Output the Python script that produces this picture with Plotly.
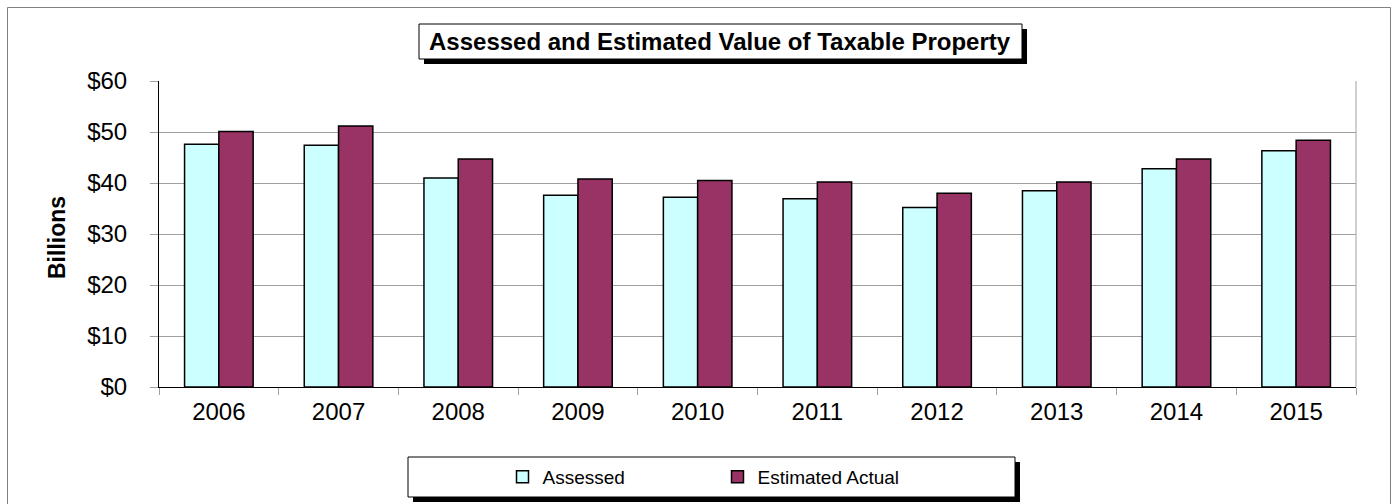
import plotly.graph_objects as go

# ---- data (billions of dollars) ----
years = ["2006", "2007", "2008", "2009", "2010", "2011", "2012", "2013", "2014", "2015"]
assessed = [47.6, 47.4, 41.0, 37.6, 37.2, 36.9, 35.2, 38.5, 42.8, 46.3]
estimated_actual = [50.1, 51.2, 44.7, 40.8, 40.5, 40.2, 38.0, 40.2, 44.7, 48.4]
series_names = ["Assessed", "Estimated Actual"]
y_ticks = [0, 10, 20, 30, 40, 50, 60]
y_tick_labels = ["$" + str(v) for v in y_ticks]

# ---- page geometry (pixels) ----
W, H = 1393, 504
L, R, T, B = 159, 37, 81, 117
PW, PH = W - L - R, H - T - B


def px(x):
    """pixel column -> paper x"""
    return (x - L) / PW


def py(y):
    """pixel row -> paper y"""
    return (H - B - y) / PH


FONT = "Liberation Sans, Arial, sans-serif"
GRID = "#A0A0A0"

fig = go.Figure()
fig.add_trace(go.Bar(
    x=years, y=assessed, name=series_names[0],
    marker=dict(color="#CCFFFF", line=dict(color="#000000", width=1.5)),
))
fig.add_trace(go.Bar(
    x=years, y=estimated_actual, name=series_names[1],
    marker=dict(color="#993366", line=dict(color="#000000", width=1.5)),
))


def boxed(x0, y0, x1, y1, off=5):
    """white box with a black drop shadow, given in pixel coordinates"""
    return [
        dict(type="rect", xref="paper", yref="paper", layer="below",
             x0=px(x0 + off), x1=px(x1 + off), y0=py(y0 + off), y1=py(y1 + off),
             fillcolor="#000000", line=dict(width=0)),
        dict(type="rect", xref="paper", yref="paper", layer="below",
             x0=px(x0), x1=px(x1), y0=py(y0), y1=py(y1),
             fillcolor="#FFFFFF", line=dict(color="#000000", width=1)),
    ]


shapes = []
# outer frame of the chart
shapes.append(dict(type="rect", xref="paper", yref="paper", layer="below",
                   x0=px(7.5), x1=px(1390.5), y0=py(540), y1=py(7.5),
                   fillcolor="rgba(0,0,0,0)", line=dict(color="#808080", width=1)))
# right edge of the plot area
shapes.append(dict(type="line", xref="paper", yref="paper", layer="above",
                   x0=1, x1=1, y0=0, y1=1, line=dict(color=GRID, width=1)))
# title and legend boxes
shapes += boxed(419, 24, 1022, 59)
shapes += boxed(408, 457, 1015, 497)

fig.update_layout(
    width=W, height=H,
    margin=dict(l=L, r=R, t=T, b=B, autoexpand=False),
    paper_bgcolor="#FFFFFF", plot_bgcolor="#FFFFFF",
    font=dict(family=FONT, color="#000000"),
    barmode="group", bargap=0.427, bargroupgap=0,
    showlegend=True,
    legend=dict(
        orientation="h", x=px(717.5), xanchor="center", y=py(477), yanchor="middle",
        bgcolor="rgba(0,0,0,0)", borderwidth=0,
        font=dict(size=19, family=FONT),
        entrywidth=170, entrywidthmode="pixels",
        itemwidth=30, traceorder="normal",
    ),
    shapes=shapes,
    annotations=[
        dict(text="<b>Assessed and Estimated Value of Taxable Property</b>",
             xref="paper", yref="paper", x=px(720), y=py(41.5),
             xanchor="center", yanchor="middle", showarrow=False,
             font=dict(size=24, family=FONT)),
        dict(text="<b>Billions</b>", textangle=-90,
             xref="paper", yref="paper", x=px(57), y=py(238),
             xanchor="center", yanchor="middle", showarrow=False,
             font=dict(size=23, family=FONT)),
    ],
)

fig.update_xaxes(
    type="category", tickson="boundaries",
    ticks="outside", ticklen=7, tickcolor=GRID, tickwidth=1,
    showline=True, linecolor="#000000", linewidth=1,
    showgrid=False, zeroline=False,
    tickfont=dict(size=24), ticklabelstandoff=3,
)
fig.update_yaxes(
    range=[0, 60], tickmode="array", tickvals=y_ticks, ticktext=y_tick_labels,
    ticks="outside", ticklen=8, tickcolor=GRID, tickwidth=1,
    showline=True, linecolor="#000000", linewidth=1,
    showgrid=True, gridcolor=GRID, gridwidth=1, zeroline=False,
    tickfont=dict(size=24), ticklabelstandoff=18,
)

fig.write_html("out.html")
